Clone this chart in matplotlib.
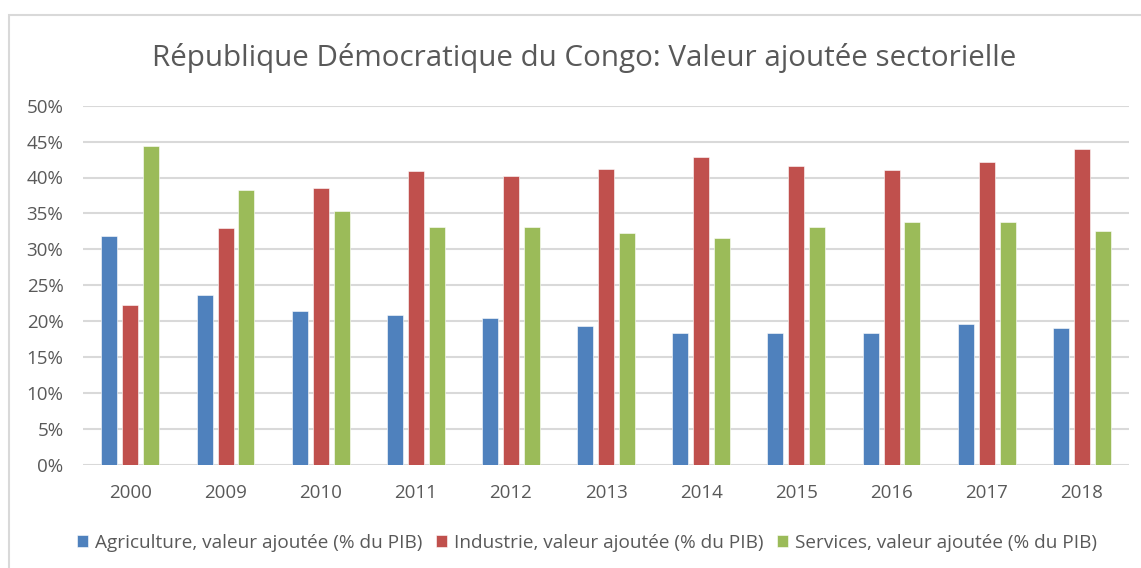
import numpy as np
import matplotlib.pyplot as plt
from matplotlib.patches import Rectangle
from matplotlib.ticker import PercentFormatter

# Données (en %)
annees = ['2000', '2009', '2010', '2011', '2012', '2013', '2014', '2015', '2016', '2017', '2018']
agriculture = [31.9, 23.7, 21.4, 20.9, 20.4, 19.3, 18.4, 18.3, 18.4, 19.6, 19.1]
industrie = [22.3, 33.0, 38.6, 40.9, 40.2, 41.2, 42.8, 41.6, 41.0, 42.2, 44.0]
services = [44.4, 38.3, 35.3, 33.1, 33.1, 32.3, 31.6, 33.1, 33.8, 33.8, 32.6]

noms = ['Agriculture, valeur ajoutée (% du PIB)',
        'Industrie, valeur ajoutée (% du PIB)',
        'Services, valeur ajoutée (% du PIB)']
couleurs = ['#4F81BD', '#C0504D', '#9BBB59']

plt.rcParams['font.family'] = ['Open Sans', 'DejaVu Sans']
texte = '#595959'

fig = plt.figure(figsize=(11.41, 5.68), dpi=100)
ax = fig.add_axes([0.0726, 0.1819, 0.9172, 0.632])

# cadre du graphique
fig.patches.append(Rectangle((9 / 1141, -0.05), 1.1, 1 - 15 / 568 + 0.05,
                             transform=fig.transFigure, fill=False,
                             edgecolor='#d9d9d9', linewidth=1.5))

x = np.arange(len(annees))
largeur = 0.168
pas = 0.22
for i, serie in enumerate([agriculture, industrie, services]):
    ax.bar(x + (i - 1) * pas, serie, largeur, color=couleurs[i],
           edgecolor='white', linewidth=0.4, label=noms[i], zorder=3)

ax.set_xlim(-0.5, len(annees) - 0.5)
ax.set_ylim(0, 50)
ax.set_yticks(np.arange(0, 51, 5))
ax.yaxis.set_major_formatter(PercentFormatter(decimals=0))
ax.set_xticks(x)
ax.set_xticklabels(annees)
ax.grid(axis='y', color='#d9d9d9', linewidth=1.5, zorder=0)
ax.tick_params(axis='both', length=0, labelsize=13.5, colors=texte)
ax.tick_params(axis='y', pad=14)
ax.tick_params(axis='x', pad=14)
for s in ax.spines.values():
    s.set_visible(False)

fig.text(0.512, 1 - 66 / 568, 'République Démocratique du Congo: Valeur ajoutée sectorielle',
         ha='center', va='baseline', fontsize=21.3, color=texte)

fig.legend(loc='center', bbox_to_anchor=(0.5145, 1 - 543 / 568), ncol=3,
           frameon=False, fontsize=13.7, labelcolor=texte,
           handlelength=0.58, handleheight=0.58, handletextpad=0.37,
           columnspacing=0.7)

fig.savefig('out.png', dpi=100)
